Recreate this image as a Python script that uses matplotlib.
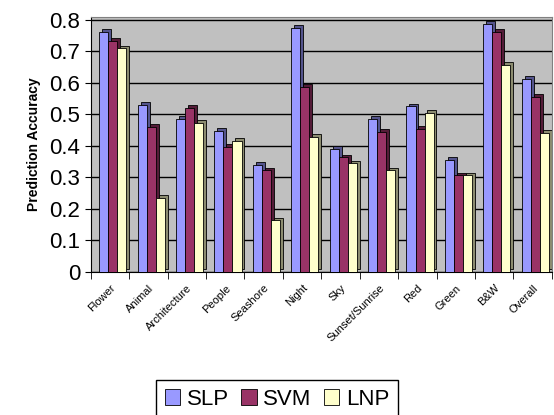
import numpy as np
import matplotlib
matplotlib.use("Agg")
import matplotlib.pyplot as plt
from matplotlib.colors import to_rgb

plt.rcParams["font.family"] = ["Liberation Sans", "DejaVu Sans"]

categorie = ["Flower", "Animal", "Architecture", "People", "Seashore", "Night",
             "Sky", "Sunset/Sunrise", "Red", "Green", "B&W", "Overall"]
slp = [0.762, 0.530, 0.484, 0.447, 0.338, 0.775, 0.390, 0.484, 0.525, 0.356, 0.788, 0.613]
svm = [0.734, 0.460, 0.519, 0.397, 0.322, 0.588, 0.363, 0.444, 0.453, 0.306, 0.762, 0.556]
lnp = [0.709, 0.234, 0.472, 0.416, 0.163, 0.428, 0.344, 0.322, 0.503, 0.306, 0.656, 0.440]

serie = [("SLP", slp, "#9999FF"), ("SVM", svm, "#993366"), ("LNP", lnp, "#FFFFCC")]


def scurisci(c, f=0.55):
    r, g, b = to_rgb(c)
    return (r * f, g * f, b * f)


fig = plt.figure(figsize=(5.54, 4.15), dpi=100)
ax = fig.add_axes([0.164, 0.345, 0.832, 0.615])
ax.set_facecolor("#C0C0C0")

x = np.arange(len(categorie))
w = 0.235
dx, dy = 0.075, 0.009
for i, (nome, val, col) in enumerate(serie):
    pos = x + (i - 1) * w + 0.07
    # finto 3D: ombra spostata in alto a destra
    ax.bar(pos + dx, val, width=w, bottom=dy, align="center",
           color=scurisci(col), edgecolor="black", linewidth=0.6, zorder=2)
    ax.bar(pos, val, width=w, align="center", color=col, edgecolor="black",
           linewidth=0.6, zorder=3, label=nome)

ax.set_xlim(-0.5, len(categorie) - 0.5)
ax.set_ylim(0, 0.81)
ax.set_yticks(np.arange(0, 0.81, 0.1))
ax.set_yticklabels(["0"] + [f"{v:.1f}" for v in np.arange(0.1, 0.81, 0.1)], fontsize=16)
ax.yaxis.grid(True, color="black", linewidth=1.0, zorder=0)
ax.set_axisbelow(True)

ax.set_xticks(x)
ax.set_xticklabels(categorie, rotation=45, ha="right", rotation_mode="anchor", fontsize=8)
ax.tick_params(axis="x", length=0, pad=8)
ax.set_xticks(np.arange(-0.5, len(categorie)), minor=True)
ax.tick_params(axis="x", which="minor", length=5, direction="out")
ax.tick_params(axis="y", length=4, direction="out")

ax.set_ylabel("Prediction Accuracy", fontsize=10, fontweight="bold", labelpad=6)

for s in ["top", "right"]:
    ax.spines[s].set_color("#808080")
ax.spines["left"].set_color("black")
ax.spines["bottom"].set_color("black")

# legenda in basso, tagliata dal bordo come nell'originale
fig.legend(loc="upper center", bbox_to_anchor=(0.5, 0.084), ncol=3, fontsize=16,
           frameon=True, fancybox=False, edgecolor="black", framealpha=1,
           handlelength=0.7, handleheight=0.7, handletextpad=0.3,
           columnspacing=0.55, borderpad=0.4, borderaxespad=0)

fig.savefig("out.png", dpi=100)
